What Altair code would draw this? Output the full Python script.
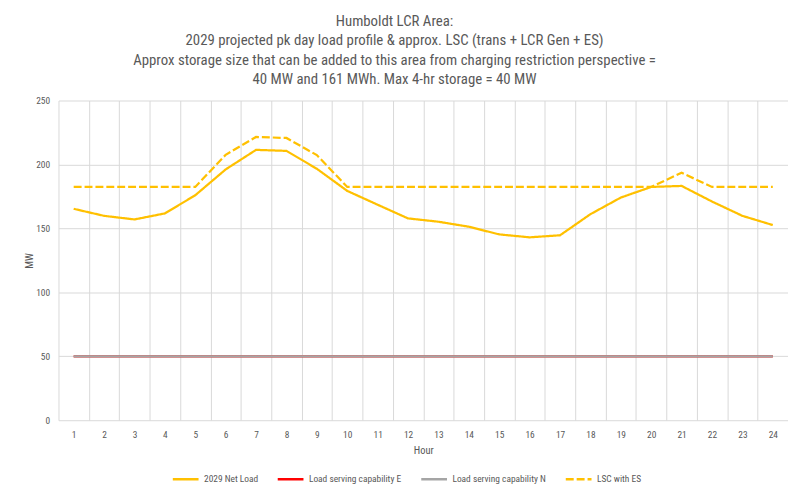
import altair as alt
import pandas as pd

hours = list(range(1, 25))
net_load = [165.3, 159.8, 157.0, 161.7, 175.9, 196.1, 211.4, 210.6, 196.6, 179.3, 168.5, 157.8,
            155.2, 151.3, 145.3, 143.0, 144.6, 161.1, 174.1, 182.4, 183.2, 171.0, 159.8, 152.6]
load_e = [50] * 24
load_n = [50] * 24
lsc_es = [182.4, 182.4, 182.4, 182.4, 182.4, 207.5, 221.5, 220.7, 207.3, 182.4, 182.4, 182.4,
          182.4, 182.4, 182.4, 182.4, 182.4, 182.4, 182.4, 182.4, 193.5, 182.4, 182.4, 182.4]

series_names = ["2029 Net Load", "Load serving capability E", "Load serving capability N", "LSC with ES"]
series_values = [net_load, load_e, load_n, lsc_es]
series_colors = ["#FFC000", "#FF0000", "#A5A5A5", "#FFC000"]
series_dash = [[1, 0], [1, 0], [1, 0], [8, 3]]

title_lines = [
    "Humboldt LCR Area:",
    "2029 projected pk day load profile & approx. LSC (trans + LCR Gen + ES)",
    "Approx storage size that can be added to this area from charging restriction perspective =",
    "40 MW and 161 MWh. Max 4-hr storage = 40 MW",
]

rows = []
for name, vals in zip(series_names, series_values):
    for h, v in zip(hours, vals):
        rows.append({"Hour": h, "MW": v, "series": name})
df = pd.DataFrame(rows)

# category boundaries (gridlines sit between hours, labels at hour centres)
edges = [h - 0.5 for h in hours]

W, H = 737, 323
FONT = "Roboto Condensed"
GREY = "#595959"

xscale = alt.Scale(domain=[0.5, 24.5], nice=False, zero=False)
yscale = alt.Scale(domain=[0, 250], nice=False)

leg = alt.Legend(
    title=None, orient="none", direction="horizontal", legendX=114, legendY=368,
    symbolType="stroke", symbolSize=676, symbolStrokeWidth=2.5, labelFontSize=9.5,
    labelColor=GREY, labelFont=FONT, columnPadding=14, labelOffset=4,
)

chart = alt.Chart(df).mark_line(strokeWidth=2.25).encode(
    x=alt.X("Hour:Q", scale=xscale,
            axis=alt.Axis(values=edges, grid=True, gridColor="#D9D9D9", ticks=False, domain=False,
                          title="Hour", labelExpr="datum.value + 0.5", labelOffset=W / 48,
                          labelPadding=9, titlePadding=7, labelFlush=False, labelOverlap=False,
                          labelBound=False)),
    y=alt.Y("MW:Q", scale=yscale,
            axis=alt.Axis(values=[0, 50, 100, 150, 200, 250], grid=True, gridColor="#D9D9D9",
                          ticks=False, domain=False, title="MW", labelPadding=9, titlePadding=1)),
    color=alt.Color("series:N", scale=alt.Scale(domain=series_names, range=series_colors), legend=leg),
    strokeDash=alt.StrokeDash("series:N", scale=alt.Scale(domain=series_names, range=series_dash), legend=leg),
).properties(
    width=W, height=H,
    autosize=alt.AutoSizeParams(type="none"),
    padding={"left": 51, "top": 91, "right": 0, "bottom": 62},
    title=alt.TitleParams(text=title_lines, anchor="middle", dx=-29, offset=9, fontSize=15,
                          fontWeight="normal", color=GREY, font=FONT, lineHeight=19.3),
).configure_view(stroke=None).configure_axis(
    labelFont=FONT, titleFont=FONT, labelColor=GREY, titleColor=GREY,
    labelFontSize=9.5, titleFontSize=10.5, titleFontWeight="normal",
)

chart.save("out.html", embed_options={"renderer": "svg", "actions": False})
